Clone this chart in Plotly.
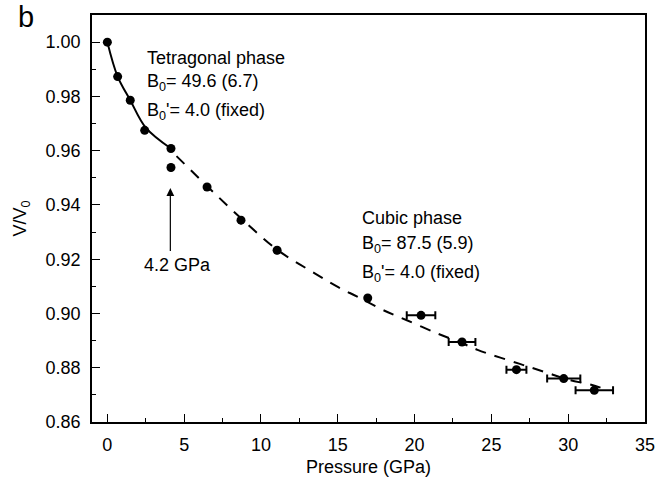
import plotly.graph_objects as go

# Measured compression data (pressure in GPa, relative volume V/V0)
tet_p = [0.0, 0.67, 1.49, 2.43, 4.14]
tet_v = [1.000, 0.9873, 0.9786, 0.9675, 0.9608]

cub_p = [4.14, 6.49, 8.70, 11.05, 16.95, 20.42, 23.09, 26.63, 29.71, 31.70]
cub_v = [0.9538, 0.9466, 0.9344, 0.9233, 0.9057, 0.8993, 0.8895, 0.8793, 0.8760, 0.8717]
cub_perr = [0, 0, 0, 0, 0, 0.93, 0.87, 0.65, 1.08, 1.22]

# Equation-of-state fit curves
tet_fit_p = [0.0, 0.67, 1.49, 2.5, 4.14]
tet_fit_v = [1.000, 0.9873, 0.9786, 0.9685, 0.9608]

cub_fit_p = [4.5, 6.5, 8.7, 11.1, 13.5, 15.0, 16.3, 17.9, 19.5, 21.5, 23.0, 24.1,
             26.8, 28.6, 30.0, 31.5, 32.6]
cub_fit_v = [0.9580, 0.9469, 0.9351, 0.9233, 0.9148, 0.9098, 0.9061, 0.9014, 0.8975,
             0.8926, 0.8893, 0.8866, 0.8815, 0.8782, 0.8756, 0.8737, 0.8717]

FONT = "Liberation Sans, Arial, sans-serif"

fig = go.Figure()

fig.add_trace(go.Scatter(x=tet_fit_p, y=tet_fit_v, mode="lines",
                         line=dict(color="black", width=2, shape="spline"),
                         hoverinfo="skip"))
fig.add_trace(go.Scatter(x=cub_fit_p, y=cub_fit_v, mode="lines",
                         line=dict(color="black", width=2, dash="11px,9px", shape="spline"),
                         hoverinfo="skip"))

fig.add_trace(go.Scatter(x=tet_p, y=tet_v, mode="markers",
                         marker=dict(color="black", size=9, symbol="circle")))
fig.add_trace(go.Scatter(x=cub_p, y=cub_v, mode="markers",
                         marker=dict(color="black", size=9, symbol="circle"),
                         error_x=dict(type="data", array=cub_perr, visible=True,
                                      color="black", thickness=2, width=4)))

txt = dict(size=18, color="black", family=FONT)

def label(x, y, text):
    fig.add_annotation(x=x, y=y, xref="x", yref="y", text=text, showarrow=False,
                       xanchor="left", yanchor="middle", font=txt)

label(2.47, 0.9942, "Tetragonal phase")
label(2.47, 0.9851, "B<sub>0</sub>= 49.6 (6.7)")
label(2.47, 0.9744, "B<sub>0</sub>'= 4.0 (fixed)")

label(16.47, 0.9351, "Cubic phase")
label(16.47, 0.9255, "B<sub>0</sub>= 87.5 (5.9)")
label(16.47, 0.9148, "B<sub>0</sub>'= 4.0 (fixed)")

# Arrow pointing at the 4.2 GPa point
fig.add_annotation(x=4.1, y=0.9462, ax=4.1, ay=0.9225, xref="x", yref="y",
                   axref="x", ayref="y", text="", showarrow=True,
                   arrowhead=2, arrowsize=1.3, arrowwidth=1.2, arrowcolor="black")
fig.add_annotation(x=4.55, y=0.9180, xref="x", yref="y", text="4.2 GPa",
                   showarrow=False, xanchor="center", yanchor="middle", font=txt)

# Panel letter
fig.add_annotation(x=(25.5 - 92) / 553, y=(422 - 17.5) / 407, xref="paper", yref="paper",
                   text="b", showarrow=False, xanchor="center", yanchor="middle",
                   font=dict(size=29, color="black", family=FONT))

axis_common = dict(showline=True, linecolor="black", linewidth=1.6, mirror=True,
                   ticks="inside", ticklen=8, tickwidth=1.4, tickcolor="black",
                   showgrid=False, zeroline=False,
                   tickfont=dict(size=18, color="black", family=FONT))

fig.update_xaxes(range=[-1, 35], tick0=0, dtick=5, ticklabelstandoff=6,
                 minor=dict(ticks="inside", ticklen=4, dtick=2.5, tickwidth=1.4,
                            tickcolor="black", showgrid=False),
                 title=dict(text="Pressure (GPa)", font=dict(size=18, color="black", family=FONT),
                            standoff=6),
                 **axis_common)
fig.update_yaxes(range=[0.86, 1.01], tick0=0.86, dtick=0.02, tickformat=".2f",
                 ticklabelstandoff=6,
                 minor=dict(ticks="inside", ticklen=4, dtick=0.01, tickwidth=1.4,
                            tickcolor="black", showgrid=False),
                 title=dict(text="V/V<sub>0</sub>", font=dict(size=18, color="black", family=FONT),
                            standoff=14),
                 **axis_common)

fig.update_layout(width=671, height=480, showlegend=False,
                  plot_bgcolor="white", paper_bgcolor="white",
                  margin=dict(l=92, r=26, t=15, b=58, autoexpand=False))

fig.write_html("out.html")
